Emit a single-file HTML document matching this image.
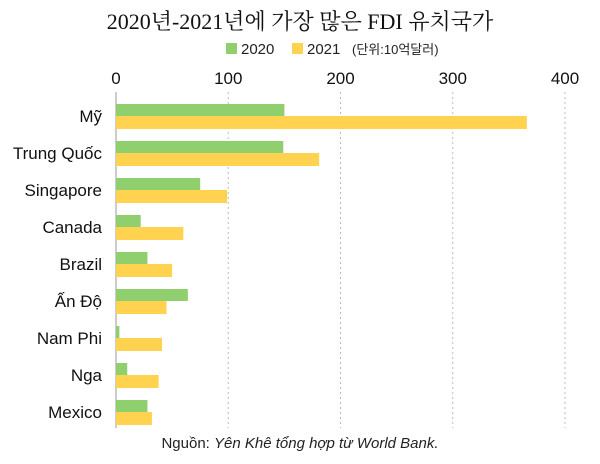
<!DOCTYPE html>
<html><head><meta charset="utf-8"><style>
body{margin:0;background:#fff;width:600px;height:459px;overflow:hidden;font-family:"Liberation Sans","Noto Sans CJK KR",sans-serif}
</style></head><body>
<svg width="600" height="459" xmlns="http://www.w3.org/2000/svg">
<text x="300" y="29" text-anchor="middle" font-size="22" font-family="'Liberation Serif','Noto Serif CJK SC','Noto Sans CJK KR',serif" fill="#111">2020년-2021년에 가장 많은 FDI 유치국가</text>
<g>
<rect x="226" y="43" width="11" height="11" fill="#8fcf6e"/>
<text x="241" y="54" font-size="15" fill="#222">2020</text>
<rect x="292" y="43" width="11" height="11" fill="#ffd24f"/>
<text x="307" y="54" font-size="15" fill="#222">2021</text>
<text x="352" y="54" font-size="13" fill="#222">(단위:10억달러)</text>
</g>
<g id="grid"></g><g id="bars"></g><g id="labels"></g>
<text x="300" y="448" text-anchor="middle" font-size="15" fill="#222">Nguồn: <tspan font-style="italic">Yên Khê tổng hợp từ World Bank.</tspan></text>
</svg>
<script>
const categories=["Mỹ","Trung Quốc","Singapore","Canada","Brazil","Ấn Độ","Nam Phi","Nga","Mexico"];
const values2020=[150,149,75,22,28,64,3,10,28];
const values2021=[366,181,99,60,50,45,41,38,32];
const ticks=[0,100,200,300,400];
const NS="http://www.w3.org/2000/svg";
const x0=116,x1=565,xmax=400;
const xs=v=>x0+(v/xmax)*(x1-x0);
const ys=i=>116+i*37;
function mk(t,a,p){const e=document.createElementNS(NS,t);for(const k in a)e.setAttribute(k,a[k]);p.appendChild(e);return e;}
const grid=document.getElementById('grid'),bars=document.getElementById('bars'),labels=document.getElementById('labels');
ticks.forEach(t=>{
  if(t>0){const l=mk('line',{x1:xs(t),x2:xs(t),y1:92,y2:428,stroke:'#bbb','stroke-dasharray':'2,3'},grid);
  
  }
  const tx=mk('text',{x:xs(t),y:84,'text-anchor':'middle','font-size':17,fill:'#111'},grid);
  tx.textContent=t;
  
  
});
const ax=mk('line',{x1:x0,x2:x0,y1:92,y2:428,stroke:'#999','stroke-width':1},grid);


categories.forEach((c,i)=>{
  const y=ys(i);
  const b1=mk('rect',{x:x0,y:y-12,width:xs(values2020[i])-x0,height:12,fill:'#8fcf6e'},bars);
  
  
  const b2=mk('rect',{x:x0,y:y,width:xs(values2021[i])-x0,height:13,fill:'#ffd24f'},bars);
  
  
  const t=mk('text',{x:102,y:y+6,'text-anchor':'end','font-size':17,fill:'#111'},labels);
  t.textContent=c;
  
  
});
</script>
</body></html>
